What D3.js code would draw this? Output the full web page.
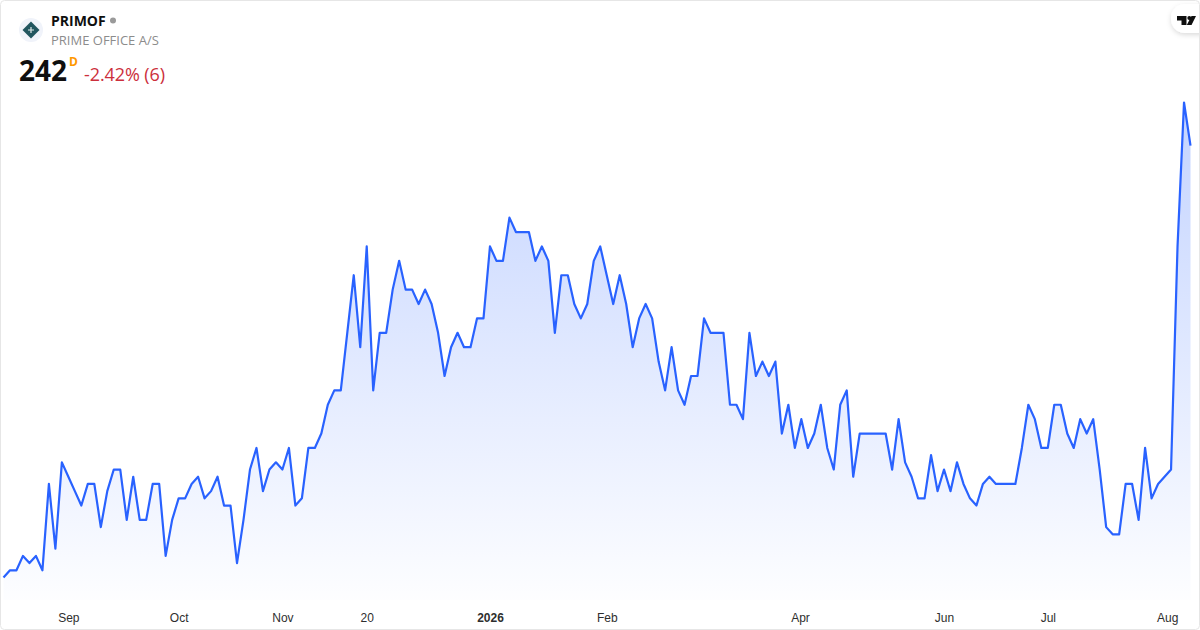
<!DOCTYPE html>
<html>
<head>
<meta charset="utf-8">
<title>PRIMOF</title>
<script src="https://cdn.jsdelivr.net/npm/d3@7"></script>
<style>
   html, body {margin: 0; padding: 0; background: #fff;}
   svg {display: block; font-family: "Open Sans", sans-serif;}
   .axis text {font-size: 12px; fill: #2e2e2e;}
   .axis path, .axis line {display: none;}
</style>
</head>
<body>
<div id="chart"></div>
<script>

// daily closes
const closes = [
   182,183,183,185,184,185,183,195,186,198,196,194,192,195,195,189,194,197,197,190,
   196,190,190,195,195,185,190,193,193,195,196,193,194,196,192,192,184,190,197,200,
   194,197,198,197,200,192,193,200,200,202,206,208,208,216,224,214,228,208,216,216,
   222,226,222,222,220,222,220,216,210,214,216,214,214,218,218,228,226,226,232,230,
   230,230,226,228,226,216,224,224,220,218,220,226,228,224,220,224,220,214,218,220,
   218,212,208,214,208,206,210,210,218,216,216,216,206,206,204,216,210,212,210,212,
   202,206,200,204,200,202,206,200,197,206,208,196,202,202,202,202,202,197,204,198,
   196,193,193,199,194,197,194,198,195,193,192,195,196,195,195,195,195,200,206,204,
   200,200,206,206,202,200,204,202,204,197,189,188,188,195,195,190,200,193,195,196,
   197,228,248,242
];

const tickBars = [10, 27, 43, 56, 75, 93, 122.8, 145, 161, 179.4];
const tickLabels = ['Sep', 'Oct', 'Nov', '20', '2026', 'Feb', 'Apr', 'Jun', 'Jul', 'Aug'];
const boldLabels = ['2026'];

const symbol = 'PRIMOF';
const company = 'PRIME OFFICE A/S';
const lastPrice = '242';
const priceUnit = 'D';
const change = '-2.42% (6)';

const width = 1200;
const height = 630;

const svg = d3.select('#chart')
   .append('svg')
   .attr('width', width)
   .attr('height', height)
   .attr('viewBox', `0 0 ${width} ${height}`);

const defs = svg.append('defs');

const grad = defs.append('linearGradient')
   .attr('id', 'areafill')
   .attr('gradientUnits', 'userSpaceOnUse')
   .attr('x1', 0).attr('x2', 0)
   .attr('y1', 102).attr('y2', 600);
grad.append('stop').attr('offset', 0).attr('stop-color', '#2962ff').attr('stop-opacity', 0.28);
grad.append('stop').attr('offset', 1).attr('stop-color', '#2962ff').attr('stop-opacity', 0.01);

const shadow = defs.append('filter')
   .attr('id', 'pillshadow')
   .attr('x', '-40%').attr('y', '-40%')
   .attr('width', '180%').attr('height', '200%');
shadow.append('feDropShadow')
   .attr('dx', 0).attr('dy', 2)
   .attr('stdDeviation', 2.5)
   .attr('flood-color', '#000')
   .attr('flood-opacity', 0.14);

const xScale = d3.scaleLinear()
   .domain([0, closes.length - 1])
   .range([3.5, 1190.5]);

const yScale = d3.scaleLinear()
   .domain([182, 248])
   .range([577.5, 102.5]);

const plotBottom = 600;

const area = d3.area()
   .x((d, i) => xScale(i))
   .y0(plotBottom)
   .y1(d => yScale(d));

const line = d3.line()
   .x((d, i) => xScale(i))
   .y(d => yScale(d));

svg.append('path')
   .datum(closes)
   .attr('d', area)
   .attr('fill', 'url(#areafill)');

svg.append('path')
   .datum(closes)
   .attr('d', line)
   .attr('fill', 'none')
   .attr('stroke', '#2962ff')
   .attr('stroke-width', 2.2)
   .attr('stroke-linejoin', 'round');

// time axis
const xAxis = d3.axisBottom(xScale)
   .tickValues(tickBars)
   .tickFormat((d, i) => tickLabels[i])
   .tickSize(0)
   .tickPadding(0);

svg.append('g')
   .attr('class', 'axis')
   .attr('transform', 'translate(0, 613)')
   .call(xAxis)
   .selectAll('text')
   .style('font-weight', (d, i) => boldLabels.includes(tickLabels[i]) ? 700 : 400);

// header
const logo = svg.append('g').attr('transform', 'translate(31, 30)');
logo.append('circle').attr('r', 12).attr('fill', '#f0f3fa');
logo.append('path').attr('d', 'M0,-8.5L8.5,0L0,8.5L-8.5,0Z').attr('fill', '#21565f');
logo.append('path').attr('d', 'M-3,0H3M0,-3V3').attr('stroke', '#dfe9ea').attr('stroke-width', 1.2);

svg.append('text')
   .attr('x', 51).attr('y', 26)
   .attr('font-size', 14).attr('font-weight', 700).attr('fill', '#0f0f0f')
   .text(symbol);

svg.append('circle')
   .attr('cx', 113).attr('cy', 20.5).attr('r', 3)
   .attr('fill', '#9a9a9a');

svg.append('text')
   .attr('x', 51).attr('y', 45)
   .attr('font-size', 13).attr('fill', '#8c8c8c')
   .text(company);

svg.append('text')
   .attr('x', 19).attr('y', 81)
   .attr('font-size', 28).attr('font-weight', 700).attr('fill', '#0f0f0f')
   .text(lastPrice);

svg.append('text')
   .attr('x', 69).attr('y', 66)
   .attr('font-size', 12).attr('font-weight', 700).attr('fill', '#ff9800')
   .text(priceUnit);

svg.append('text')
   .attr('x', 84).attr('y', 81)
   .attr('font-size', 18).attr('letter-spacing', -0.1).attr('fill', '#cc2f3c')
   .text(change);

// tradingview badge
svg.append('rect')
   .attr('x', 1171).attr('y', 4)
   .attr('width', 50).attr('height', 29).attr('rx', 14)
   .attr('fill', '#fff')
   .attr('filter', 'url(#pillshadow)');

svg.append('path')
   .attr('d', 'M1177,16H1186.5V25H1181.5V20.5H1177ZM1191.5,16H1196L1191.5,25H1186.8Z')
   .attr('fill', '#0f0f0f');

svg.append('circle')
   .attr('cx', 1189.3).attr('cy', 18).attr('r', 2)
   .attr('fill', '#0f0f0f');

// card border, masks the badge where it leaves the card
svg.append('rect')
   .attr('x', 1199.5).attr('y', 0)
   .attr('width', 1).attr('height', height)
   .attr('fill', '#fff');

svg.append('rect')
   .attr('x', 0.5).attr('y', 0.5)
   .attr('width', width - 1).attr('height', height - 1)
   .attr('rx', 4)
   .attr('fill', 'none')
   .attr('stroke', '#e6e6e6');

</script>
</body>
</html>
